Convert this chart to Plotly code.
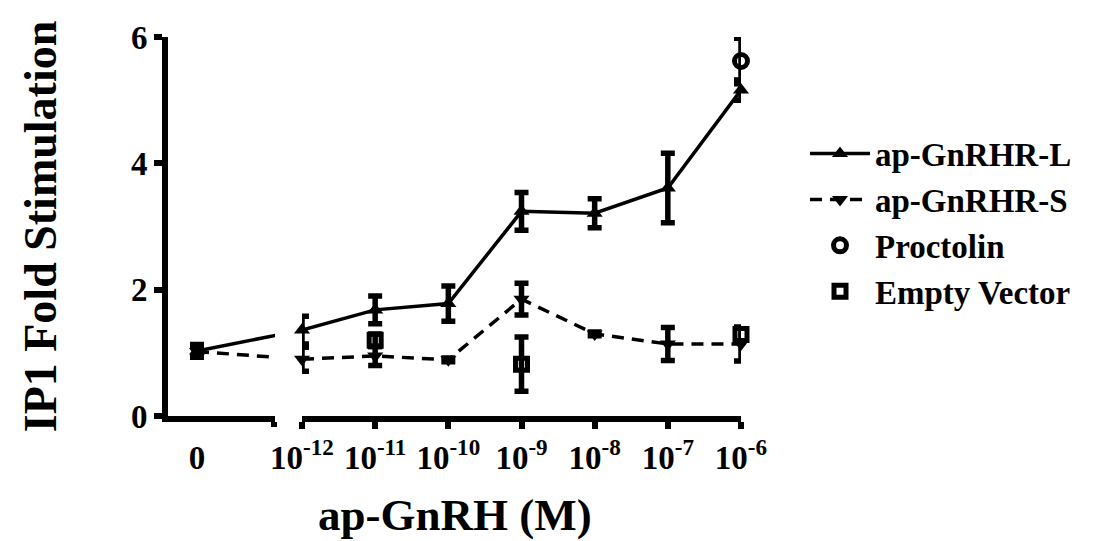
import plotly.graph_objects as go

# ---------------- data ----------------
conc = [1e-12, 1e-11, 1e-10, 1e-9, 1e-8, 1e-7, 1e-6]
conc_labels = ["10<sup>-12</sup>", "10<sup>-11</sup>", "10<sup>-10</sup>", "10<sup>-9</sup>",
               "10<sup>-8</sup>", "10<sup>-7</sup>", "10<sup>-6</sup>"]

L_zero, L_zero_err = 1.03, 0.10
L_vals = [1.36, 1.68, 1.78, 3.24, 3.21, 3.61, 5.16]
L_errs = [0.22, 0.22, 0.28, 0.30, 0.23, 0.55, 0.16]

S_zero, S_zero_err = 1.02, 0.08
S_vals = [0.90, 0.95, 0.89, 1.85, 1.30, 1.14, 1.14]
S_errs = [0.19, 0.15, 0.03, 0.25, 0.03, 0.26, 0.27]

proc_conc = [1e-6]
proc_vals = [5.62]
proc_errs = [0.36]

ev_conc = [1e-11, 1e-9, 1e-6]
ev_vals = [1.20, 0.82, 1.29]
ev_errs = [0.10, 0.43, 0.10]

# ---------------- layout geometry (figure pixels; page has an 8px body margin) ----------------
W, H = 1104, 533
PL, PR, PT, PB = 160, 733, 27, 408
BREAK_L, BREAK_R, ZERO_PX = 267, 294, 189
pw, ph = PR - PL, PB - PT
dpx = (PR - BREAK_R) / 6.0          # px per decade
left_range = [(PL - ZERO_PX) / dpx, (BREAK_L - ZERO_PX) / dpx]
bridge_x = (BREAK_R - ZERO_PX) / dpx  # position of first concentration on the left axis
cap_x = (BREAK_L - 1 - ZERO_PX) / dpx
EPS = 1e-4

FONT = "Liberation Serif"
BLACK = "black"
MS = 14
LW = 3.5

def eb(arr):
    return dict(type="data", array=arr, thickness=5.5, width=7, color=BLACK)

fig = go.Figure()

# --- left (zero) panel ---
fig.add_trace(go.Scatter(x=[0, bridge_x], y=[L_zero, L_vals[0]], mode="lines",
                         line=dict(color=BLACK, width=LW), xaxis="x", yaxis="y",
                         showlegend=False, hoverinfo="skip"))
fig.add_trace(go.Scatter(x=[0, bridge_x], y=[S_zero, S_vals[0]], mode="lines",
                         line=dict(color=BLACK, width=LW, dash="12px,8px"), xaxis="x", yaxis="y",
                         showlegend=False, hoverinfo="skip"))
fig.add_trace(go.Scatter(x=[0], y=[S_zero], mode="markers", error_y=eb([S_zero_err]),
                         marker=dict(symbol="triangle-down", size=MS, color=BLACK),
                         xaxis="x", yaxis="y", showlegend=False, cliponaxis=False))
fig.add_trace(go.Scatter(x=[0], y=[L_zero], mode="markers", error_y=eb([L_zero_err]),
                         marker=dict(symbol="triangle-up", size=MS, color=BLACK),
                         xaxis="x", yaxis="y", showlegend=False, cliponaxis=False))

# --- right (concentration) panel ---
fig.add_trace(go.Scatter(x=conc, y=L_vals, name="ap-GnRHR-L", mode="lines+markers",
                         error_y=eb(L_errs), line=dict(color=BLACK, width=LW),
                         marker=dict(symbol="triangle-up", size=MS, color=BLACK),
                         xaxis="x2", yaxis="y", cliponaxis=False))
fig.add_trace(go.Scatter(x=conc, y=S_vals, name="ap-GnRHR-S", mode="lines+markers",
                         error_y=eb(S_errs), line=dict(color=BLACK, width=LW, dash="12px,8px"),
                         marker=dict(symbol="triangle-down", size=MS, color=BLACK),
                         xaxis="x2", yaxis="y", cliponaxis=False))
fig.add_trace(go.Scatter(x=proc_conc, y=proc_vals, name="Proctolin", mode="markers",
                         error_y=eb(proc_errs),
                         marker=dict(symbol="circle-open", size=13, color=BLACK,
                                     line=dict(width=5, color=BLACK)),
                         xaxis="x2", yaxis="y", cliponaxis=False))
fig.add_trace(go.Scatter(x=ev_conc, y=ev_vals, name="Empty Vector", mode="markers",
                         error_y=eb(ev_errs),
                         marker=dict(symbol="square-open", size=12, color=BLACK,
                                     line=dict(width=5, color=BLACK)),
                         xaxis="x2", yaxis="y", cliponaxis=False))

tickfont = dict(family=FONT, size=33, color=BLACK, weight="bold")

fig.update_layout(
    width=W, height=H,
    margin=dict(l=PL, r=W - PR, t=PT, b=H - PB, pad=0),
    plot_bgcolor="white", paper_bgcolor="white",
    font=dict(family=FONT, color=BLACK),
    xaxis=dict(domain=[0, (BREAK_L - PL) / pw], anchor="y", range=left_range,
               showline=True, linewidth=6, linecolor=BLACK, showgrid=False, zeroline=False,
               tickmode="array", tickvals=[0], ticktext=["0"], ticks="",
               ticklabelstandoff=7, tickfont=tickfont,
               minor=dict(tickmode="array", tickvals=[cap_x], ticks="outside",
                          ticklen=5, tickwidth=6, tickcolor=BLACK, showgrid=False)),
    xaxis2=dict(domain=[(BREAK_R - PL) / pw, 1], anchor="y", type="log",
                range=[-12 - EPS, -6 + EPS],
                showline=True, linewidth=6, linecolor=BLACK, showgrid=False, zeroline=False,
                tickmode="array", tickvals=conc, ticktext=conc_labels,
                ticks="outside", ticklen=7, tickwidth=6, tickcolor=BLACK,
                ticklabelstandoff=0, tickfont=tickfont),
    yaxis=dict(domain=[0, 1], anchor="x", range=[0, 6], showline=True, linewidth=6,
               linecolor=BLACK, showgrid=False, zeroline=False,
               tickvals=[0, 2, 4, 6], ticks="outside", ticklen=8, tickwidth=6,
               tickcolor=BLACK, tickfont=tickfont, ticklabelstandoff=0,
               title=dict(text="IP1 Fold Stimulation", standoff=62,
                          font=dict(family=FONT, size=46, color=BLACK, weight="bold"))),
    legend=dict(x=(797 - PL) / pw, xanchor="left", y=(PB - 116) / ph, yanchor="top",
                font=dict(family=FONT, size=33, color=BLACK, weight="bold"),
                bgcolor="rgba(0,0,0,0)", itemwidth=60, tracegroupgap=0),
    annotations=[dict(text="ap-GnRH (M)", xref="paper", yref="paper", x=0.5,
                      y=-(508 - PB) / ph, yanchor="middle", xanchor="center",
                      showarrow=False,
                      font=dict(family=FONT, size=45, color=BLACK, weight="bold"))],
    showlegend=True,
)

fig.write_html("out.html")
